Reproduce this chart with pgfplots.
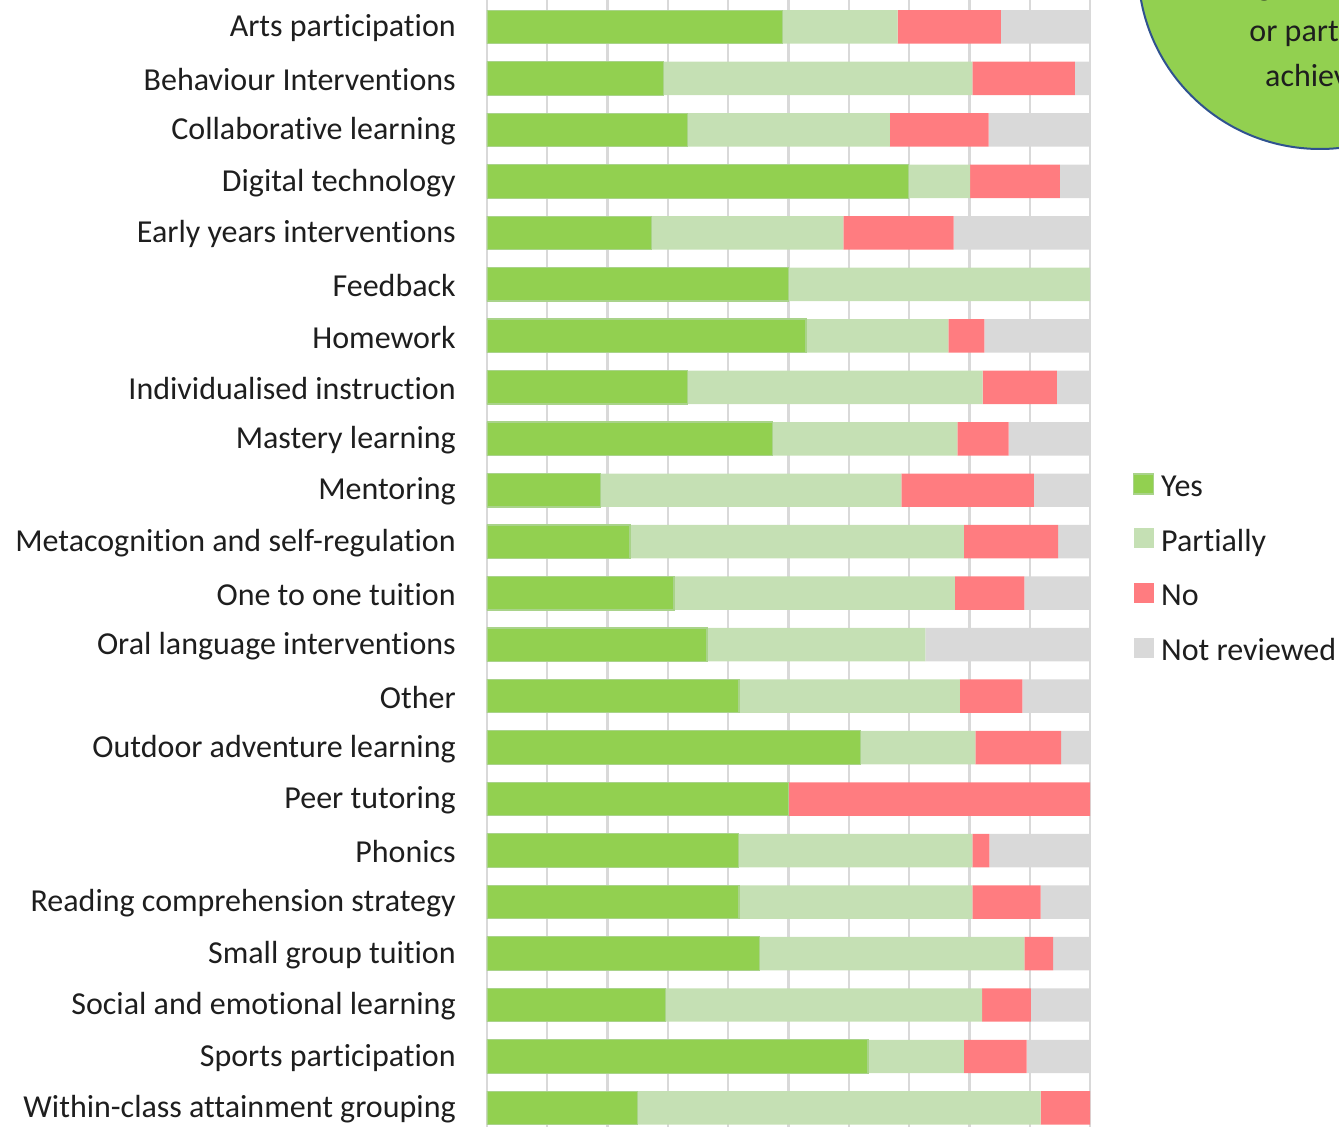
\documentclass[border=0pt]{standalone}
\usepackage{pgfplots}
\pgfplotsset{compat=1.18}
\usepackage{pgfplotstable}
\usepackage{fontspec}
\setmainfont{Carlito}[Ligatures=NoCommon]
\definecolor{cyes}{HTML}{92D050}
\definecolor{cyesedge}{HTML}{A9D38A}
\definecolor{cpart}{HTML}{C5E0B4}
\definecolor{cno}{HTML}{FF7C80}
\definecolor{cnr}{HTML}{D9D9D9}
\definecolor{cgrid}{HTML}{D9D9D9}
\definecolor{cline}{HTML}{2F528F}
\definecolor{ctext}{HTML}{1E1E1E}

\pgfplotstableread{
idx yes part no nr
0 49.0 19.1 17.1 14.8
1 29.3 51.2 17.0 2.5
2 33.2 33.6 16.4 16.8
3 69.9 10.2 14.9 5.0
4 27.3 31.8 18.3 22.6
5 50.0 50.0 0 0
6 52.9 23.6 6.0 17.5
7 33.2 49.0 12.3 5.5
8 47.4 30.6 8.5 13.5
9 18.8 49.9 22.0 9.3
10 23.7 55.4 15.6 5.3
11 31.0 46.6 11.5 10.9
12 36.5 36.2 0 27.3
13 41.8 36.6 10.4 11.2
14 61.9 19.1 14.2 4.8
15 50.0 0 50.0 0
16 41.7 38.8 2.8 16.7
17 41.8 38.7 11.3 8.2
18 45.2 43.9 4.8 6.1
19 29.6 52.5 8.1 9.8
20 63.2 15.9 10.4 10.5
21 25.0 66.8 8.2 0
}\data

\begin{document}
\begin{tikzpicture}[x=0.75pt, y=0.75pt, font=\fontsize{24}{28.8}\selectfont, text=ctext]
\useasboundingbox (0,0) rectangle (1339,1127);
\begin{scope}
\clip (0,0) rectangle (1339,1127);
\filldraw[fill=cyes, draw=cline, line width=1.5pt] (1320,1160) circle [radius=136.5pt];
\node[anchor=base, inner sep=0pt] at (1320,1131) {goals met};
\node[anchor=base, inner sep=0pt] at (1320,1085) {or partially};
\node[anchor=base, inner sep=0pt] at (1323,1040) {achieved};
\end{scope}
\begin{axis}[
  at={(365.25pt,0pt)}, anchor=south west,
  scale only axis, width=452.25pt, height=845.25pt,
  xbar stacked, bar width=25.1pt,
  xmin=0, xmax=100, ymin=-0.524, ymax=21.37, y dir=reverse,
  xtick={0,10,...,100}, xticklabels={},
  xmajorgrids, grid style={cgrid, line width=1.7pt},
  ytick={0,...,21},
  yticklabels={Arts participation, Behaviour Interventions, Collaborative learning, Digital technology, Early years interventions, Feedback, Homework, Individualised instruction, Mastery learning, Mentoring, Metacognition and self-regulation, One to one tuition, Oral language interventions, Other, Outdoor adventure learning, Peer tutoring, Phonics, Reading comprehension strategy, Small group tuition, Social and emotional learning, Sports participation, Within-class attainment grouping},
  axis line style={draw=none}, major tick length=0pt,
  yticklabel style={inner sep=0pt, xshift=-23.25pt, yshift=-1pt, font=\fontsize{24}{28.8}\selectfont, text=ctext},
  legend style={at={(1.0713,0.5800)}, anchor=north west, draw=none, fill=none,
    inner sep=0pt, outer sep=0pt, row sep=18.9pt,
    nodes={inner xsep=5.25pt, inner ysep=0pt, text height=17pt, text depth=5pt, text=ctext, font=\fontsize{24}{28.8}\selectfont}},
  legend image code/.code={\fill[#1] (0pt,-4.1pt) rectangle (15pt,10.9pt);},
  legend cell align=left,
]
\addplot[fill=cyes, draw=cyesedge, line width=0.9pt] table[x=yes, y=idx] {\data};
\addplot[fill=cpart, draw=none] table[x=part, y=idx] {\data};
\addplot[fill=cno, draw=none] table[x=no, y=idx] {\data};
\addplot[fill=cnr, draw=none] table[x=nr, y=idx] {\data};
\legend{Yes, Partially, No, Not reviewed}
\end{axis}
\end{tikzpicture}
\end{document}
